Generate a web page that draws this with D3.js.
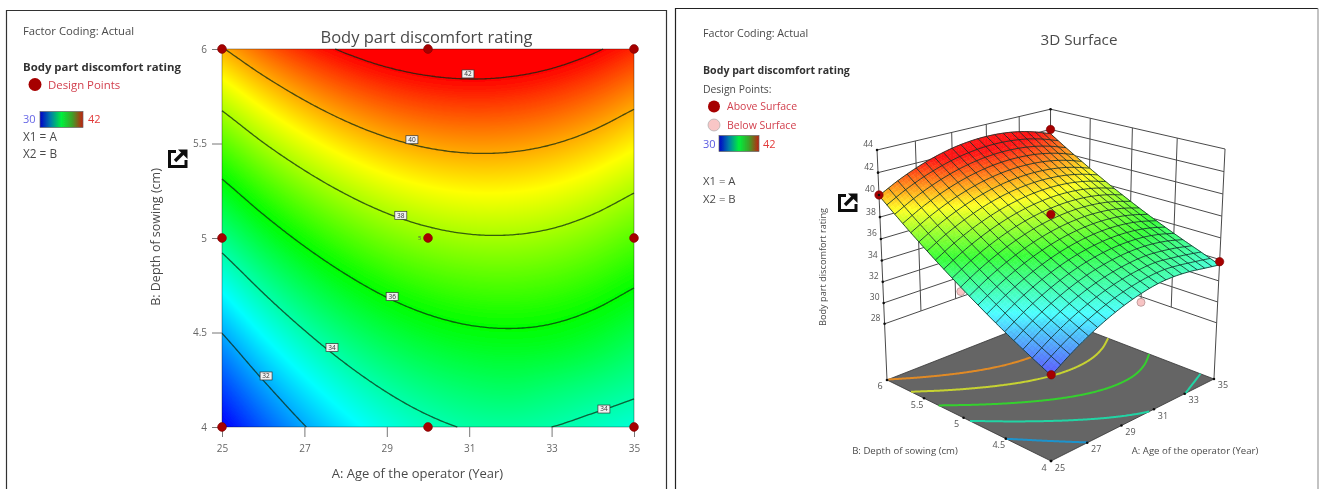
<!DOCTYPE html>
<html>
<head>
<meta charset="utf-8">
<script src="https://cdn.jsdelivr.net/npm/d3@7"></script>
<style>
html,body{margin:0;padding:0;background:#fff}
svg{display:block}
text{font-family:"Open Sans","Noto Sans",sans-serif}
</style>
</head>
<body>
<script>
// ---------- data ----------
const ages = [25,26,27,28,29,30,31,32,33,34,35];
const depths = [4,4.2,4.4,4.6,4.8,5,5.2,5.4,5.6,5.8,6];
// one row per age, one value per depth
const ratingGrid = [
 [29.94,30.74,31.58,32.47,33.41,34.39,35.41,36.47,37.58,38.74,39.94],
 [31.03,31.81,32.64,33.51,34.42,35.38,36.38,37.43,38.52,39.65,40.83],
 [31.96,32.72,33.53,34.38,35.27,36.21,37.19,38.22,39.29,40.40,41.56],
 [32.73,33.47,34.26,35.09,35.96,36.88,37.84,38.85,39.90,40.99,42.13],
 [33.34,34.06,34.83,35.64,36.49,37.39,38.33,39.32,40.35,41.42,42.54],
 [33.78,34.48,35.23,36.02,36.85,37.73,38.65,39.62,40.63,41.68,42.78],
 [34.06,34.74,35.47,36.24,37.05,37.91,38.81,39.76,40.75,41.78,42.86],
 [34.12,34.84,35.55,36.30,37.09,37.93,38.81,39.74,40.71,41.72,42.78],
 [34.00,34.68,35.47,36.20,36.97,37.79,38.65,39.56,40.51,41.50,42.54],
 [33.75,34.45,35.22,35.93,36.68,37.48,38.32,39.21,40.14,41.11,42.13],
 [33.50,34.17,34.82,35.51,36.24,37.02,37.84,38.71,39.62,40.57,41.57]
];
const contourLevels = [32,34,36,38,40,42];
const contourLabels = [
 {level:42,A:30.97,B:5.868},{level:40,A:29.61,B:5.52},{level:38,A:29.34,B:5.12},
 {level:36,A:29.13,B:4.69},{level:34,A:27.67,B:4.42},{level:32,A:26.07,B:4.27},{level:34,A:34.27,B:4.095}
];
const designA = [25,30,35,25,30,35,25,30,35];
const designB = [4,4,4,5,5,5,6,6,6];
const aboveA = [25,25,35,35,30];
const aboveB = [4,6,6,4,5];
const aboveZ = [30,40,42,33.8,38.2];
const belowA = [30,25];
const belowB = [4,5];
const belowZ = [33,34];
const ageTicks = [25,27,29,31,33,35];
const depthTicks = [4,4.5,5,5.5,6];
const depthTickLabels = ["4","4.5","5","5.5","6"];
const ratingTicks = [28,30,32,34,36,38,40,42,44];
const floorContourColors = ["#1f93cc","#22d4a4","#34d02e","#c6d232","#e08a26"];
const legendStops = ["#0000c8","#007fa8","#00f03c","#3ea028","#c4200e"];

// ---------- helpers ----------
const heat = d3.scaleLinear().domain([30,33,36,39,42])
  .range(["#0000ff","#00ffff","#00ff00","#ffff00","#ff0000"]).clamp(true);
function cr(p0,p1,p2,p3,t){
  return 0.5*((2*p1)+(-p0+p2)*t+(2*p0-5*p1+4*p2-p3)*t*t+(-p0+3*p1-3*p2+p3)*t*t*t);
}
const ia = d3.scaleLinear().domain([25,35]).range([0,ages.length-1]).clamp(true);
const ib = d3.scaleLinear().domain([4,6]).range([0,depths.length-1]).clamp(true);
function cl(i,n){return Math.max(0,Math.min(n-1,i));}
function rating(A,B){
  const x=ia(A),y=ib(B),n=ages.length,m=depths.length;
  const i=Math.min(Math.floor(x),n-2),j=Math.min(Math.floor(y),m-2),tx=x-i,ty=y-j;
  const edge=(r,c)=>{
    // linear extension past the read grid keeps the spline's ends straight
    const ri=cl(r,n),ci=cl(c,m);
    let v=ratingGrid[ri][ci];
    if(r<0) v+=ratingGrid[0][ci]-ratingGrid[1][ci];
    if(r>=n) v+=ratingGrid[n-1][ci]-ratingGrid[n-2][ci];
    if(c<0) v+=ratingGrid[ri][0]-ratingGrid[ri][1];
    if(c>=m) v+=ratingGrid[ri][m-1]-ratingGrid[ri][m-2];
    return v;
  };
  const rows=[-1,0,1,2].map(d=>cr(edge(i+d,j-1),edge(i+d,j),edge(i+d,j+1),edge(i+d,j+2),ty));
  return cr(rows[0],rows[1],rows[2],rows[3],tx);
}
const GA=0.05,GB=0.01,NX=203,NY=203;
const field=new Float64Array(NX*NY);
for(let y=0;y<NY;y++)for(let x=0;x<NX;x++){
  field[y*NX+x]=rating(25+(x-1)*GA,4+(y-1)*GB);
}
const contourGen=d3.contours().size([NX,NY]).thresholds(contourLevels);
const polys=contourGen(field);
function contourLines(level){
  const c=polys.find(p=>p.value===level);
  const out=[];
  if(!c) return out;
  c.coordinates.forEach(poly=>poly.forEach(ring=>{
    let cur=[];
    ring.forEach(pt=>{
      const A=25+(pt[0]-1.5)*GA,B=4+(pt[1]-1.5)*GB;
      if(A>=24.999&&A<=35.001&&B>=3.9999&&B<=6.0001){cur.push([A,B]);}
      else{ if(cur.length>1) out.push(cur); cur=[]; }
    });
    if(cur.length>1) out.push(cur);
  }));
  return out;
}

const svg=d3.select("body").append("svg").attr("width",1319).attr("height",489);
const defs=svg.append("defs");
const blur=defs.append("filter").attr("id","soft").attr("filterUnits","userSpaceOnUse")
  .attr("x",0).attr("y",0).attr("width",1319).attr("height",489);
blur.append("feGaussianBlur").attr("stdDeviation",0.5);
const lg=defs.append("linearGradient").attr("id","bar");
legendStops.forEach((c,i)=>lg.append("stop").attr("offset",i/(legendStops.length-1)).attr("stop-color",c));
const root=svg.append("g").attr("filter","url(#soft)");
root.append("rect").attr("width",1319).attr("height",489).attr("fill","#fff");

const INK="#4a4a4a",RED="#d2404e",DOT="#a60000";
function txt(g,x,y,s,o={}){
  return g.append("text").attr("x",x).attr("y",y).text(s)
    .attr("font-size",o.size||11).attr("fill",o.fill||INK)
    .attr("font-weight",o.weight||null).attr("text-anchor",o.anchor||"start");
}
function icon(g,x,y){
  const i=g.append("g").attr("transform",`translate(${x},${y})`).attr("fill","none").attr("stroke","#111");
  i.append("path").attr("d","M8 2.5H1.5V17.5H18V11").attr("stroke-width",3);
  i.append("path").attr("d","M7 12L15 4").attr("stroke-width",3.4);
  i.append("path").attr("d","M10 0.5H19.5V10Z").attr("fill","#111").attr("stroke","none");
}
function legendBar(g,x,y,w,h){
  g.append("rect").attr("x",x).attr("y",y).attr("width",w).attr("height",h)
   .attr("fill","url(#bar)").attr("stroke","#666").attr("stroke-width",0.7);
}

// ---------- panels ----------
root.append("path").attr("d","M6.5 489V10.5H666.5V489").attr("fill","none").attr("stroke","#333").attr("stroke-width",1.2);
root.append("path").attr("d","M675.5 489V8.5H1318").attr("fill","none").attr("stroke","#222").attr("stroke-width",1.2);
root.append("path").attr("d","M1318 8.5V489").attr("fill","none").attr("stroke","#aaa").attr("stroke-width",1.4);

// ---------- left: contour plot ----------
const L=root.append("g");
const xL=d3.scaleLinear().domain([25,35]).range([222,634]);
const yL=d3.scaleLinear().domain([4,6]).range([427,49]);

const cv=document.createElement("canvas");
cv.width=412;cv.height=378;
const cx=cv.getContext("2d"),im=cx.createImageData(412,378);
for(let py=0;py<378;py++)for(let px=0;px<412;px++){
  const c=d3.rgb(heat(rating(xL.invert(222+px+0.5),yL.invert(49+py+0.5))));
  const k=(py*412+px)*4;
  im.data[k]=c.r;im.data[k+1]=c.g;im.data[k+2]=c.b;im.data[k+3]=255;
}
cx.putImageData(im,0,0);
L.append("image").attr("x",222).attr("y",49).attr("width",412).attr("height",378)
  .attr("href",cv.toDataURL());
L.append("rect").attr("x",222).attr("y",49).attr("width",412).attr("height",378)
  .attr("fill","none").attr("stroke","#000").attr("stroke-opacity",0.35);

const lineL=d3.line().x(d=>xL(d[0])).y(d=>yL(d[1]));
contourLevels.forEach(lv=>{
  L.append("g").selectAll("path").data(contourLines(lv)).join("path")
   .attr("d",lineL).attr("fill","none").attr("stroke","#0c2a10").attr("stroke-opacity",0.75).attr("stroke-width",1.3);
});
const axB=L.append("g").attr("transform","translate(0,427)")
  .call(d3.axisBottom(xL).tickValues(ageTicks).tickSize(10).tickPadding(8).tickFormat(d3.format("d")));
const axL=L.append("g").attr("transform","translate(222,0)")
  .call(d3.axisLeft(yL).tickValues(depthTicks).tickSize(10).tickPadding(5).tickFormat((d,i)=>depthTickLabels[i]));
[axB,axL].forEach(a=>{
  a.select(".domain").remove();
  a.selectAll("line").attr("stroke","#777");
  a.selectAll("text").attr("font-size",10).attr("fill","#666").attr("font-family",'"Open Sans","Noto Sans",sans-serif');
});
const lab=L.append("g").selectAll("g").data(contourLabels).join("g")
  .attr("transform",d=>`translate(${xL(d.A)},${yL(d.B)})`);
lab.append("rect").attr("x",-6).attr("y",-4).attr("width",12).attr("height",8)
  .attr("fill","#f0f0f0").attr("stroke","#333").attr("stroke-width",0.7);
lab.append("text").attr("text-anchor","middle").attr("y",2.2).attr("font-size",6.5).attr("fill","#333").text(d=>d.level);
L.append("g").selectAll("circle").data(designA).join("circle")
  .attr("cx",d=>xL(d)).attr("cy",(d,i)=>yL(designB[i])).attr("r",4.4)
  .attr("fill",DOT).attr("stroke","#7a0000").attr("stroke-width",0.6);
txt(L,xL(30)-10,yL(5)+2,"5",{size:6,fill:"#555"});

txt(L,426.5,43,"Body part discomfort rating",{size:16.5,anchor:"middle"});
txt(L,417.5,478,"A: Age of the operator (Year)",{size:13,anchor:"middle"});
txt(L,0,0,"B: Depth of sowing (cm)",{size:12.5,anchor:"middle"}).attr("transform","translate(160,237) rotate(-90)").attr("x",0);
txt(L,23,35,"Factor Coding: Actual",{size:11.3});
txt(L,23,71,"Body part discomfort rating",{size:11.4,weight:700,fill:"#333"});
L.append("circle").attr("cx",35).attr("cy",84.5).attr("r",6.5).attr("fill",DOT);
txt(L,48,88.5,"Design Points",{size:11.4,fill:RED});
txt(L,23,123,"30",{size:11,fill:"#6666e6"});
legendBar(L,40,111.5,43,16);
txt(L,88,123,"42",{size:11,fill:"#e23a3a"});
txt(L,23,141,"X1 = A",{size:11.8});
txt(L,23,158,"X2 = B",{size:11.8});
icon(L,168,149);

// ---------- right: 3D surface ----------
const R=root.append("g");
const uS=d3.scaleLinear().domain([25,35]).range([0,1]);
const vS=d3.scaleLinear().domain([4,6]).range([0,1]);
const wS=d3.scaleLinear().domain([22.5,44]).range([0,1]);
function proj(A,B,z){
  const u=uS(A),v=vS(B),w=wS(z);
  const D=1+0.1417*u+0.1417*v-0.069*w;
  return [(1051+335*u-38.3*v-71.9*w)/D,(461-28.3*u-27.2*v-272.9*w)/D];
}
const Zf=22.5,Zt=44,Zg=28;
const ln=d3.line();
// back walls
const wall=R.append("g").attr("fill","none").attr("stroke","#4a4a4a").attr("stroke-width",1);
ratingTicks.forEach(z=>{
  wall.append("path").attr("d",ln([proj(25,6,z),proj(35,6,z),proj(35,4,z)]));
});
ageTicks.slice(1,-1).forEach(a=>wall.append("path").attr("d",ln([proj(a,6,Zg),proj(a,6,Zt)])));
depthTicks.slice(1,-1).forEach(b=>wall.append("path").attr("d",ln([proj(35,b,Zg),proj(35,b,Zt)])));
wall.append("path").attr("d",ln([proj(25,6,Zf),proj(25,6,Zt)]));
wall.append("path").attr("d",ln([proj(35,4,Zf),proj(35,4,Zt)]));
wall.append("path").attr("d",ln([proj(35,6,Zf),proj(35,6,Zt)]));
// floor
R.append("path").attr("d",ln([proj(25,4,Zf),proj(35,4,Zf),proj(35,6,Zf),proj(25,6,Zf)])+"Z")
  .attr("fill","#656565").attr("stroke","#333").attr("stroke-width",0.8);
const lineF=d3.line().x(d=>proj(d[0],d[1],Zf)[0]).y(d=>proj(d[0],d[1],Zf)[1]);
contourLevels.slice(0,5).forEach((lv,k)=>{
  R.append("g").selectAll("path").data(contourLines(lv)).join("path")
   .attr("d",lineF).attr("fill","none").attr("stroke",floorContourColors[k]).attr("stroke-width",2);
});
// below-surface points are hidden partly by the surface
belowA.forEach((a,i)=>{
  const p=proj(a,belowB[i],belowZ[i]);
  R.append("path").attr("d",ln([p,proj(a,belowB[i],rating(a,belowB[i]))])).attr("stroke","#555");
  R.append("circle").attr("cx",p[0]).attr("cy",p[1]).attr("r",4).attr("fill","#f7c4c4").attr("stroke","#a88").attr("stroke-width",0.7);
});
// surface, back to front
const SUB=3,CELLS=20,N=SUB*CELLS;
const cells=[];
for(let i=N-1;i>=0;i--)for(let j=N-1;j>=0;j--)cells.push([i,j]);
const aAt=i=>25+10*i/N,bAt=j=>4+2*j/N;
function surfColor(z){
  const mix=0.37-0.3*Math.max(0,Math.min(1,(z-30)/12));
  return d3.interpolateRgb(heat(z),"#ffffff")(mix);
}
R.append("g").selectAll("path").data(cells).join("path")
  .attr("d",([i,j])=>{
    const q=[[i,j],[i+1,j],[i+1,j+1],[i,j+1]].map(([x,y])=>proj(aAt(x),bAt(y),rating(aAt(x),bAt(y))));
    return ln(q)+"Z";
  })
  .each(function([i,j]){
    const c=surfColor(rating(aAt(i+0.5),bAt(j+0.5)));
    d3.select(this).attr("fill",c).attr("stroke",c).attr("stroke-width",0.5);
  });
// mesh
const mesh=R.append("g").attr("fill","none").attr("stroke","#12302a").attr("stroke-opacity",0.85).attr("stroke-width",1);
for(let k=0;k<=CELLS;k++){
  const a=25+10*k/CELLS,b=4+2*k/CELLS;
  mesh.append("path").attr("d",ln(d3.range(0,N+1).map(j=>proj(a,bAt(j),rating(a,bAt(j))))));
  mesh.append("path").attr("d",ln(d3.range(0,N+1).map(i=>proj(aAt(i),b,rating(aAt(i),b)))));
}
// above-surface points
R.append("g").selectAll("circle").data(aboveA).join("circle")
  .attr("cx",(d,i)=>proj(d,aboveB[i],aboveZ[i])[0]).attr("cy",(d,i)=>proj(d,aboveB[i],aboveZ[i])[1])
  .attr("r",4.2).attr("fill",DOT).attr("stroke","#7a0000").attr("stroke-width",0.6);
// ticks
function dots(g,pts){
  g.append("g").selectAll("circle").data(pts).join("circle")
   .attr("cx",d=>d[0]).attr("cy",d=>d[1]).attr("r",1.3).attr("fill","#111");
}
dots(R,ratingTicks.map(z=>proj(25,6,z)));
dots(R,ageTicks.map(a=>proj(a,4,Zf)));
dots(R,depthTicks.map(b=>proj(25,b,Zf)));
dots(R,[proj(35,6,Zt)]);
ratingTicks.forEach(z=>{const p=proj(25,6,z);txt(R,p[0]-9,p[1]-2.5,z,{size:8.5,anchor:"middle",fill:"#555"});});
ageTicks.forEach(a=>{const p=proj(a,4,Zf);txt(R,p[0]+9,p[1]+9.5,a,{size:9,anchor:"middle",fill:"#555"});});
depthTicks.forEach((b,i)=>{const p=proj(25,b,Zf);txt(R,p[0]-7,p[1]+9.5,depthTickLabels[i],{size:9,anchor:"middle",fill:"#555"});});

txt(R,1079,45,"3D Surface",{size:15.2,anchor:"middle"});
txt(R,905,454,"B: Depth of sowing (cm)",{size:9.6,anchor:"middle"});
txt(R,1195,454,"A: Age of the operator (Year)",{size:9.6,anchor:"middle"});
txt(R,0,0,"Body part discomfort rating",{size:9.2,anchor:"middle"}).attr("transform","translate(826,267) rotate(-90)");
txt(R,703,37,"Factor Coding: Actual",{size:10.7});
txt(R,703,74,"Body part discomfort rating",{size:10.6,weight:700,fill:"#333"});
txt(R,703,93,"Design Points:",{size:10.4});
R.append("circle").attr("cx",714).attr("cy",106.5).attr("r",6).attr("fill",DOT);
txt(R,727,110,"Above Surface",{size:10.5,fill:RED});
R.append("circle").attr("cx",714).attr("cy",125).attr("r",6).attr("fill","#f9c6c6").attr("stroke","#aaa").attr("stroke-width",0.7);
txt(R,727,129,"Below Surface",{size:10.5,fill:RED});
txt(R,703,148,"30",{size:11,fill:"#5a5ae0"});
legendBar(R,719,135.5,40,16);
txt(R,763,148,"42",{size:11,fill:"#e23a3a"});
txt(R,703,185,"X1 = A",{size:11.3});
txt(R,703,203,"X2 = B",{size:11.3});
icon(R,838,193);
</script>
</body>
</html>
